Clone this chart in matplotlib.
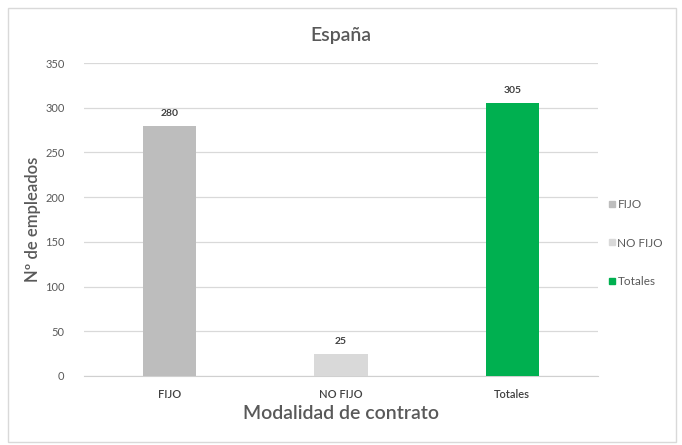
import matplotlib.pyplot as plt
from matplotlib.patches import Rectangle
from matplotlib.lines import Line2D

categorias = ["FIJO", "NO FIJO", "Totales"]
empleados = [280, 25, 305]
colores = ["#BDBDBD", "#D9D9D9", "#00B050"]
yticks = [0, 50, 100, 150, 200, 250, 300, 350]

plt.rcParams["font.family"] = ["Lato", "DejaVu Sans"]

W, H = 682, 445
fig = plt.figure(figsize=(W / 100, H / 100), dpi=100)
fig.patch.set_facecolor("white")

# marco exterior del gráfico
fig.add_artist(Rectangle((8 / W, 1 - 442 / H), (676 - 8) / W, (442 - 8) / H,
                         transform=fig.transFigure, fill=False,
                         edgecolor="#D9D9D9", linewidth=1))

ax = fig.add_axes([84 / W, 1 - 376 / H, (598 - 84) / W, (376 - 63) / H])
x = range(len(categorias))
bars = ax.bar(x, empleados, width=0.31, color=colores, zorder=3)

for b, v in zip(bars, empleados):
    ax.text(b.get_x() + b.get_width() / 2, v + 9, str(v), ha="center",
            va="bottom", fontsize=7.5, fontweight="bold", color="#404040")

ax.set_xlim(-0.5, 2.5)
ax.set_ylim(0, 350)
ax.set_yticks(yticks)
ax.set_yticklabels([str(t) for t in yticks], fontsize=8, color="#595959")
ax.set_xticks(list(x))
ax.set_xticklabels(categorias, fontsize=8, color="#404040",
                   fontweight="semibold")
ax.tick_params(length=0, pad=9)
ax.tick_params(axis="y", pad=14)
ax.grid(axis="y", color="#D9D9D9", linewidth=0.9, zorder=0)
for s in ["top", "right", "left"]:
    ax.spines[s].set_visible(False)
ax.spines["bottom"].set_color("#D0D0D0")

ax.set_title("España", fontsize=14, color="#595959", pad=16,
             fontweight="semibold")
ax.set_xlabel("Modalidad de contrato", fontsize=14, color="#595959",
              labelpad=4, fontweight="semibold")
ax.set_ylabel("Nº de empleados", fontsize=12, color="#595959", labelpad=3,
              fontweight="semibold")

handles = [Line2D([], [], marker="s", linestyle="none", markersize=5,
                  color=c) for c in colores]
fig.legend(handles, categorias, loc="center left",
           bbox_to_anchor=(595 / W, 1 - 243 / H), frameon=False,
           fontsize=8.5, labelcolor="#595959", handletextpad=0.0,
           labelspacing=2.35, handlelength=1.0)

fig.savefig("out.png", dpi=100, facecolor="white")
